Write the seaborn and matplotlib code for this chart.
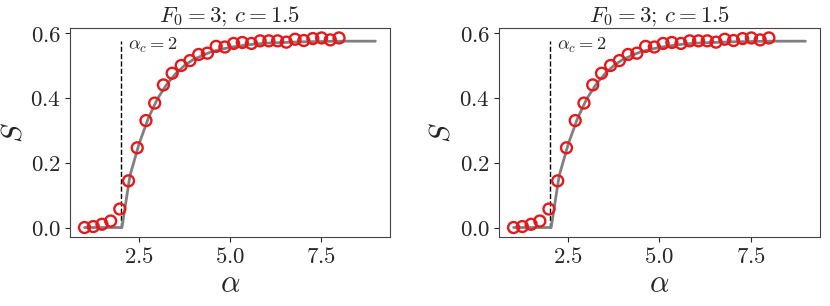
import numpy as np
import matplotlib
matplotlib.use("Agg")
import matplotlib.pyplot as plt
import seaborn as sns
from matplotlib.ticker import FuncFormatter

# simulation points (circles)
alpha_sim = [1.00, 1.24, 1.48, 1.72, 1.97, 2.21, 2.45, 2.69, 2.93, 3.17,
             3.41, 3.66, 3.90, 4.14, 4.38, 4.62, 4.86, 5.10, 5.34, 5.59,
             5.83, 6.07, 6.31, 6.55, 6.79, 7.03, 7.28, 7.52, 7.76, 8.00]
S_sim = [0.000, 0.003, 0.010, 0.020, 0.057, 0.144, 0.246, 0.330, 0.384, 0.440,
         0.476, 0.500, 0.515, 0.534, 0.538, 0.559, 0.557, 0.568, 0.571, 0.568,
         0.576, 0.576, 0.576, 0.572, 0.581, 0.577, 0.583, 0.585, 0.579, 0.585]

# theory curve (gray line)
alpha_th = [1.0, 2.0, 2.03, 2.25, 2.5, 2.75, 3.0, 3.25, 3.5, 3.75, 4.0,
            4.5, 5.0, 5.5, 6.0, 7.0, 8.0, 9.0]
S_th = [0.0, 0.0, 0.0, 0.160, 0.258, 0.336, 0.396, 0.440, 0.474, 0.500, 0.519,
        0.543, 0.556, 0.564, 0.569, 0.573, 0.575, 0.575]

alpha_c = 2
S_top = 0.575
title = r"$F_0=3;\, c=1.5$"

sns.set_style("ticks")
plt.rcParams["mathtext.fontset"] = "cm"
plt.rcParams["font.family"] = ["DejaVu Serif"]

fig = plt.figure(figsize=(8.3, 3.06), dpi=100)
ax1 = fig.add_axes([0.0843, 0.2255, 0.3855, 0.6815])
ax2 = fig.add_axes([0.6012, 0.2255, 0.3867, 0.6815])

fmt = FuncFormatter(lambda v, p: f"${v:.1f}$")

for ax in [ax1, ax2]:
    sns.lineplot(x=alpha_th, y=S_th, ax=ax, color="gray", linewidth=2.0,
                 sort=False, zorder=2)
    ax.vlines(alpha_c, 0, S_top, colors="black", linestyles="--", linewidth=1.0, zorder=1)
    sns.scatterplot(x=alpha_sim, y=S_sim, ax=ax, s=62, facecolor="none",
                    edgecolor="#e3191c", linewidth=1.7, zorder=3)
    ax.text(2.2, 0.562, r"$\alpha_c=2$", fontsize=13.3, va="center", ha="left")
    ax.set_xticks([2.5, 5.0, 7.5])
    ax.set_yticks([0.0, 0.2, 0.4, 0.6])
    ax.xaxis.set_major_formatter(fmt)
    ax.yaxis.set_major_formatter(fmt)
    ax.tick_params(labelsize=16.5, length=3.5, pad=3)
    ax.set_xlabel(r"$\alpha$", fontsize=22, labelpad=0)
    ax.set_ylabel(r"$S$", fontsize=21)
    ax.yaxis.set_label_coords(-0.134, 0.5)
    ax.set_title(title, fontsize=16.5, pad=4)
    for sp in ax.spines.values():
        sp.set_color("#444444")

fig.savefig("out.png", dpi=100)
